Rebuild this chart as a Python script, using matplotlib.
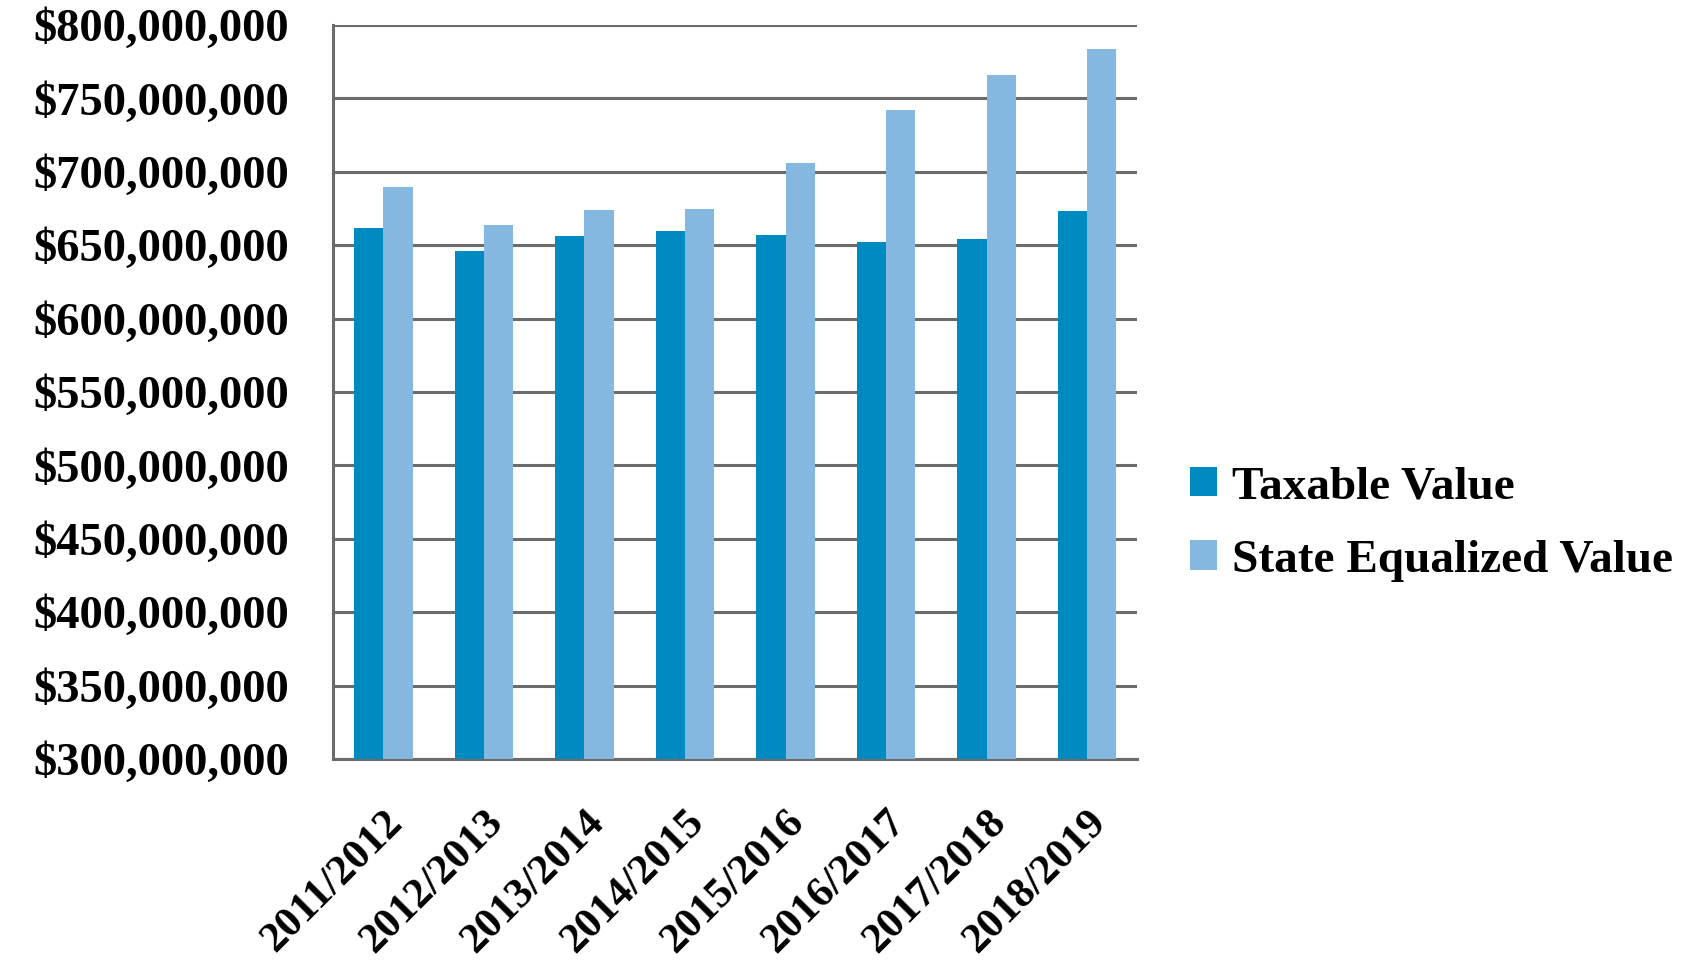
import matplotlib
matplotlib.use("Agg")
import matplotlib.pyplot as plt
import numpy as np
from matplotlib.ticker import FuncFormatter

# values (dollars)
years = ['2011/2012', '2012/2013', '2013/2014', '2014/2015',
         '2015/2016', '2016/2017', '2017/2018', '2018/2019']
taxable = [661.5e6, 646e6, 656.5e6, 660e6, 657e6, 652e6, 654.5e6, 673e6]
state_equalized = [689.5e6, 664e6, 674e6, 674.5e6, 706e6, 742e6, 766e6, 784e6]

TAX_COLOR = '#008AC2'
SEV_COLOR = '#85B8E0'
GRID_COLOR = '#6B6B6B'

plt.rcParams['font.family'] = ['Liberation Serif', 'DejaVu Serif']

fig = plt.figure(figsize=(17, 9.65), dpi=100)
ax = fig.add_axes([0.196, 0.2135, 0.473, 0.7605])

x = np.arange(len(years))
w = 0.29
ax.bar(x - w / 2, taxable, w, color=TAX_COLOR, label='Taxable Value', zorder=3)
ax.bar(x + w / 2, state_equalized, w, color=SEV_COLOR, label='State Equalized Value', zorder=3)

ax.set_xlim(-0.5, len(years) - 0.5)
ax.set_ylim(300e6, 800e6)
ax.set_yticks(np.arange(300e6, 800e6 + 1, 50e6))
ax.yaxis.set_major_formatter(FuncFormatter(lambda v, p: f'${v:,.0f}'))
ax.grid(axis='y', color=GRID_COLOR, linewidth=2.2, zorder=1)
ax.set_axisbelow(True)

for side in ['top', 'right']:
    ax.spines[side].set_visible(False)
for side in ['left', 'bottom']:
    ax.spines[side].set_color(GRID_COLOR)
    ax.spines[side].set_linewidth(2.2)

ax.set_xticks(x)
ax.set_xticklabels(years, rotation=45, ha='right', va='top', rotation_mode='anchor')
ax.tick_params(axis='x', length=0, pad=32, labelsize=31)
ax.tick_params(axis='y', length=0, pad=32, labelsize=33.5)
for lbl in ax.get_xticklabels() + ax.get_yticklabels():
    lbl.set_fontweight('bold')

leg = fig.legend(loc='center left', bbox_to_anchor=(0.700, 0.457), frameon=False,
                 fontsize=34, handlelength=0.58, handleheight=0.58,
                 handletextpad=0.3, labelspacing=0.67, borderaxespad=0, borderpad=0)
for t in leg.get_texts():
    t.set_fontweight('bold')

fig.savefig('out.png', dpi=100, facecolor='white')
